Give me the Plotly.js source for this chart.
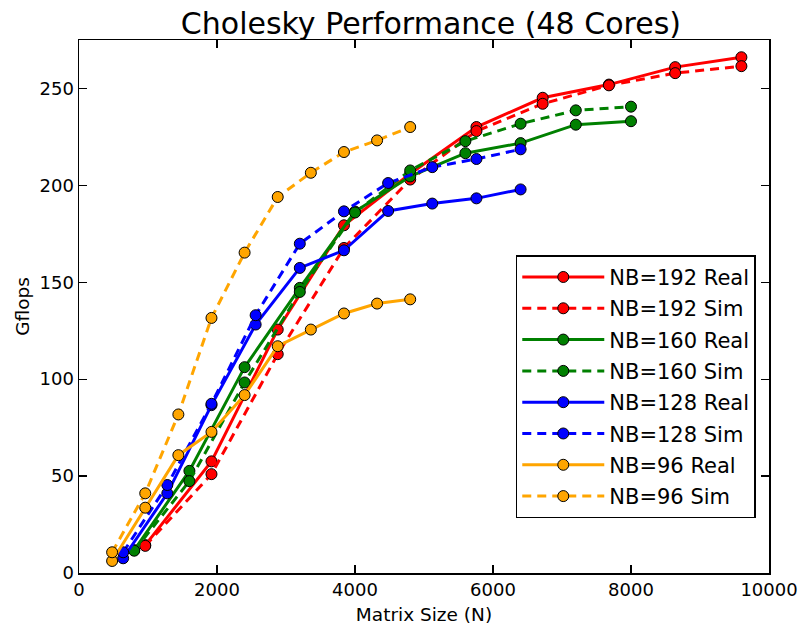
<!DOCTYPE html>
<html>
<head>
<meta charset="utf-8">
<script src="https://cdn.plot.ly/plotly-3.0.1.min.js"></script>
<style>
  html, body { margin: 0; padding: 0; background: #fff; }
  #chart { width: 803px; height: 625px; }
</style>
</head>
<body>
<div id="chart"></div>
<script>
// Matrix sizes (N) for each block size
const nb192N = [960, 1920, 2880, 3840, 4800, 5760, 6720, 7680, 8640, 9600];
const nb160N = [800, 1600, 2400, 3200, 4000, 4800, 5600, 6400, 7200, 8000];
const nb128N = [640, 1280, 1920, 2560, 3200, 3840, 4480, 5120, 5760, 6400];
const nb96N  = [480, 960, 1440, 1920, 2400, 2880, 3360, 3840, 4320, 4800];

// Measured (Real) and simulated (Sim) Gflops
const nb192Real = [14.4, 57.6, 125.6, 179.4, 206.0, 230.1, 245.2, 252.0, 261.0, 266.1];
const nb192Sim  = [14.0, 51.0, 112.9, 167.7, 203.0, 228.0, 242.1, 251.6, 257.9, 261.5];
const nb160Real = [11.8, 52.7, 106.2, 147.1, 186.5, 204.6, 216.6, 221.8, 231.3, 233.1];
const nb160Sim  = [11.5, 47.4, 98.3, 145.0, 186.0, 207.7, 222.8, 231.8, 238.7, 240.6];
const nb128Real = [7.6, 41.1, 86.6, 128.2, 157.4, 166.5, 186.8, 190.6, 193.3, 197.9];
const nb128Sim  = [10.7, 45.4, 87.3, 133.0, 169.9, 186.6, 201.2, 209.4, 213.6, 218.6];
const nb96Real  = [6.2, 33.7, 60.8, 72.8, 91.8, 117.0, 125.6, 133.9, 139.0, 141.2];
const nb96Sim   = [10.7, 41.1, 81.8, 131.6, 165.3, 194.0, 206.5, 217.2, 223.2, 230.1];

const seriesNames = ['NB=192 Real', 'NB=192 Sim', 'NB=160 Real', 'NB=160 Sim',
                     'NB=128 Real', 'NB=128 Sim', 'NB=96 Real', 'NB=96 Sim'];
const seriesX = [nb192N, nb192N, nb160N, nb160N, nb128N, nb128N, nb96N, nb96N];
const seriesY = [nb192Real, nb192Sim, nb160Real, nb160Sim, nb128Real, nb128Sim, nb96Real, nb96Sim];
const seriesColors = ['#ff0000', '#ff0000', '#008000', '#008000',
                      '#0000ff', '#0000ff', '#ffa500', '#ffa500'];

const traces = seriesNames.map((name, i) => ({
  type: 'scatter',
  mode: 'lines+markers',
  name: name,
  legendgroup: 'g' + i,
  x: seriesX[i],
  y: seriesY[i],
  line: { color: seriesColors[i], width: 3, dash: (i % 2 === 1) ? '9px,6px' : 'solid' },
  marker: { symbol: 'circle', size: 11, color: seriesColors[i], line: { color: '#000', width: 1 } }
}));

const axisCommon = {
  showline: true, linecolor: '#000', linewidth: 1.5, mirror: 'ticks',
  ticks: 'inside', ticklen: 8, tickwidth: 1.2, tickcolor: '#000',
  showgrid: false, zeroline: false, tickformat: 'd',
  tickfont: { family: 'DejaVu Sans', size: 18, color: '#000' }
};

const layout = {
  width: 803, height: 625,
  margin: { l: 79, r: 34, t: 40, b: 52 },
  paper_bgcolor: '#fff', plot_bgcolor: '#fff',
  title: {
    text: 'Cholesky Performance (48 Cores)',
    font: { family: 'DejaVu Sans', size: 30, color: '#000' },
    x: 0.51, xref: 'paper', y: 0.962, yref: 'container', yanchor: 'middle'
  },
  xaxis: Object.assign({}, axisCommon, {
    range: [0, 10000], dtick: 2000, tick0: 0,
    title: { text: 'Matrix Size (N)', font: { family: 'DejaVu Sans', size: 18.5, color: '#000' }, standoff: 9 }
  }),
  yaxis: Object.assign({}, axisCommon, {
    range: [0, 275], dtick: 50, tick0: 0,
    title: { text: 'Gflops', font: { family: 'DejaVu Sans', size: 18.5, color: '#000' }, standoff: 5 }
  }),
  showlegend: true,
  legend: {
    x: 0.633, y: 0.596, xanchor: 'left', yanchor: 'top',
    bgcolor: '#fff', bordercolor: '#000', borderwidth: 1.5,
    font: { family: 'DejaVu Sans', size: 21, color: '#000' },
    traceorder: 'grouped', tracegroupgap: 1,
    itemwidth: 82
  }
};

Plotly.newPlot('chart', traces, layout, { displayModeBar: false, staticPlot: true });
</script>
</body>
</html>
